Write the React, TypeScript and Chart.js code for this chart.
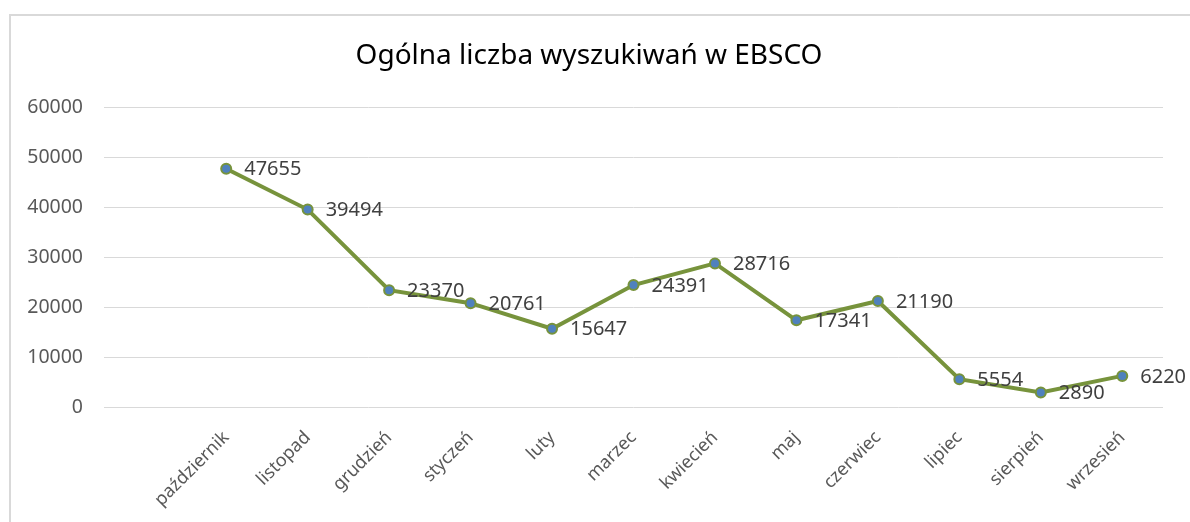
import React, { useEffect, useRef } from "react";
import { Chart, registerables } from "chart.js";

Chart.register(...registerables);

const TITLE = "Ogólna liczba wyszukiwań w EBSCO";
const CATEGORIES = [
  "",
  "październik",
  "listopad",
  "grudzień",
  "styczeń",
  "luty",
  "marzec",
  "kwiecień",
  "maj",
  "czerwiec",
  "lipiec",
  "sierpień",
  "wrzesień",
];
const SEARCHES: (number | null)[] = [
  null, 47655, 39494, 23370, 20761, 15647, 24391, 28716, 17341, 21190, 5554, 2890, 6220,
];
const Y_MIN = 0;
const Y_MAX = 60000;
const Y_STEP = 10000;

const FONT = "'Noto Sans', 'Open Sans', sans-serif";

const titlePlugin = {
  id: "customTitle",
  afterDraw(chart: any) {
    const ctx = chart.ctx;
    ctx.save();
    ctx.font = `28px ${FONT}`;
    ctx.fillStyle = "#000000";
    ctx.textAlign = "center";
    ctx.textBaseline = "middle";
    ctx.fillText(TITLE, 589, 56);
    ctx.restore();
  },
};

const labelPlugin = {
  id: "pointLabels",
  afterDatasetsDraw(chart: any) {
    const ctx = chart.ctx;
    const meta = chart.getDatasetMeta(0);
    const data = chart.data.datasets[0].data;
    ctx.save();
    ctx.font = `20px ${FONT}`;
    ctx.fillStyle = "#404040";
    ctx.textAlign = "left";
    ctx.textBaseline = "middle";
    meta.data.forEach((pt: any, i: number) => {
      const v = data[i];
      if (v === null || v === undefined) return;
      ctx.fillText(String(v), pt.x + 18, pt.y + 1);
    });
    ctx.restore();
  },
};

export default function App() {
  const ref = useRef<HTMLCanvasElement | null>(null);
  useEffect(() => {
    if (!ref.current) return;
    const chart = new Chart(ref.current, {
      type: "line",
      data: {
        labels: CATEGORIES,
        datasets: [
          {
            data: SEARCHES,
            borderColor: "#77933C",
            borderWidth: 4,
            backgroundColor: "#4F81BD",
            pointBackgroundColor: "#4F81BD",
            pointBorderColor: "#77933C",
            pointBorderWidth: 2,
            pointRadius: 5,
            tension: 0,
            spanGaps: false,
          },
        ],
      },
      options: {
        responsive: false,
        animation: false,
        layout: { padding: { left: 0, top: 107, right: 27, bottom: 0 } },
        plugins: {
          legend: { display: false },
          title: { display: false },
          tooltip: { enabled: false },
        },
        scales: {
          x: {
            offset: true,
            grid: { display: false, drawTicks: false },
            border: { display: false },
            ticks: {
              autoSkip: false,
              maxRotation: 45,
              minRotation: 45,
              padding: 20,
              color: "#595959",
              font: { family: FONT, size: 18 },
            },
            afterFit(scale: any) {
              scale.height = 115;
            },
          },
          y: {
            min: Y_MIN,
            max: Y_MAX,
            grid: { color: "#D9D9D9", lineWidth: 1, drawTicks: false },
            border: { display: false },
            ticks: {
              stepSize: Y_STEP,
              padding: 21,
              color: "#595959",
              font: { family: FONT, size: 19.5 },
              callback: (v: any) => String(v),
            },
            afterFit(scale: any) {
              scale.width = 104;
            },
          },
        },
      },
      plugins: [titlePlugin, labelPlugin],
    });
    return () => chart.destroy();
  }, []);

  return (
    <div style={{ position: "absolute", left: 0, top: 0, width: 1190, height: 522, background: "#ffffff", overflow: "hidden" }}>
      <div
        style={{
          position: "absolute",
          left: 9,
          top: 14,
          width: 1200,
          height: 530,
          border: "2px solid #D9D9D9",
          boxSizing: "border-box",
        }}
      />
      <canvas ref={ref} width={1190} height={522} style={{ position: "absolute", left: 0, top: 0, display: "block" }} />
    </div>
  );
}
